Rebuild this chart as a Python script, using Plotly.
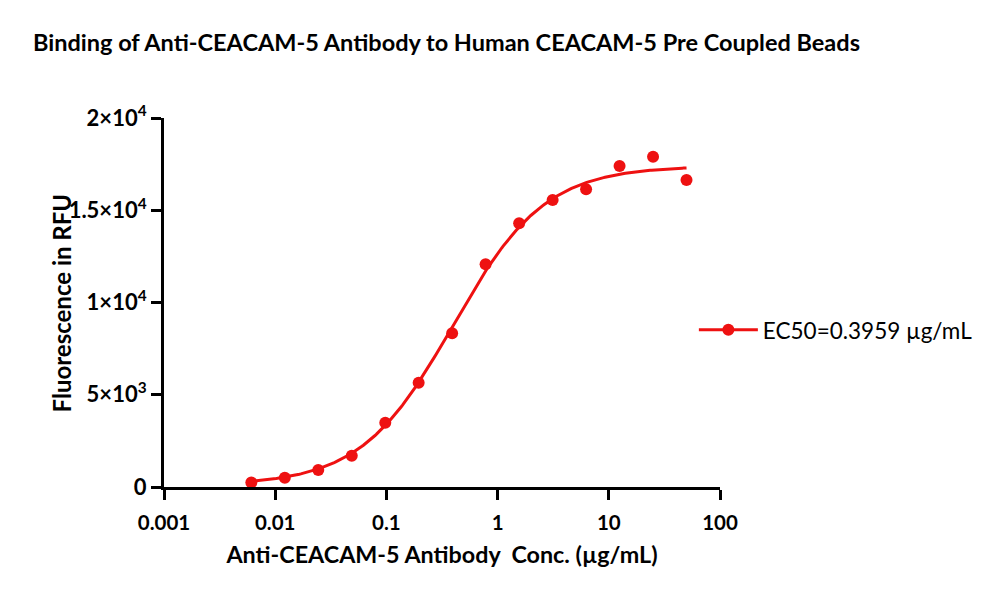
import numpy as np
import plotly.graph_objects as go

title = "Binding of Anti-CEACAM-5 Antibody to Human CEACAM-5 Pre Coupled Beads"
conc = [0.0061, 0.0122, 0.0244, 0.0488, 0.0977, 0.195, 0.39, 0.78, 1.5625, 3.125, 6.25, 12.5, 25, 50]
rfu = [250, 504, 921, 1697, 3485, 5653, 8330, 12070, 14293, 15555, 16135, 17398, 17902, 16640]

# 4PL fit parameters
ec50 = 0.3959
top = 17400
bottom = 100
hill = 1.05

y_tickvals = [0, 5000, 10000, 15000, 20000]
y_ticktext = ["0", "5×10<sup>3</sup>", "1×10<sup>4</sup>", "1.5×10<sup>4</sup>", "2×10<sup>4</sup>"]
x_tickvals = [0.001, 0.01, 0.1, 1, 10, 100]
x_ticktext = ["0.001", "0.01", "0.1", "1", "10", "100"]

red = "#ee1111"
xf = np.logspace(np.log10(conc[0]), np.log10(conc[-1]), 300)
yf = bottom + (top - bottom) / (1 + (ec50 / xf) ** hill)

fig = go.Figure()
fig.add_trace(go.Scatter(x=xf, y=yf, mode="lines", line=dict(color=red, width=3),
                         showlegend=False, hoverinfo="skip"))
fig.add_trace(go.Scatter(x=conc, y=rfu, mode="markers", marker=dict(color=red, size=12),
                         showlegend=False, cliponaxis=False))
fig.add_trace(go.Scatter(x=[None], y=[None], mode="lines+markers",
                         line=dict(color=red, width=3), marker=dict(color=red, size=12),
                         name="EC50=0.3959 µg/mL"))

font_main = "Lato, 'Open Sans', sans-serif"
fig.update_layout(
    width=1000, height=598,
    paper_bgcolor="white", plot_bgcolor="white",
    margin=dict(l=164, r=280, t=118, b=111, autoexpand=False),
    title=dict(text="<b>" + title + "</b>", x=0.033, xanchor="left", y=0.928, yanchor="middle",
               font=dict(family=font_main, size=23.5, color="black")),
    font=dict(family=font_main, color="black"),
    xaxis=dict(type="log", range=[-3, 2], tickvals=x_tickvals, ticktext=x_ticktext,
               showgrid=False, zeroline=False, showline=True, linecolor="black", linewidth=3,
               ticks="outside", ticklen=10, tickwidth=3, tickcolor="black",
               ticklabelstandoff=5,
               tickfont=dict(size=20.5, family=font_main, weight="bold"),
               title=dict(text="<b>Anti-CEACAM-5 Antibody  Conc. (µg/mL)</b>",
                          font=dict(size=23.3, family=font_main))),
    yaxis=dict(range=[0, 20000], tickvals=y_tickvals, ticktext=y_ticktext,
               showgrid=False, zeroline=False, showline=True, linecolor="black", linewidth=3,
               ticks="outside", ticklen=10, tickwidth=3, tickcolor="black",
               tickfont=dict(size=22, family=font_main, weight="bold")),
    legend=dict(x=0.953, y=0.425, xanchor="left", yanchor="middle",
                font=dict(size=22.5, family=font_main, color="black"),
                itemwidth=59, bgcolor="rgba(0,0,0,0)"),
    annotations=[dict(text="<b>Fluorescence in RFU</b>", textangle=-90,
                      xref="paper", yref="paper", x=-0.1835, y=0.5,
                      xanchor="center", yanchor="middle", showarrow=False,
                      font=dict(size=24, family=font_main, color="black"))],
)
fig.write_html("out.html")
